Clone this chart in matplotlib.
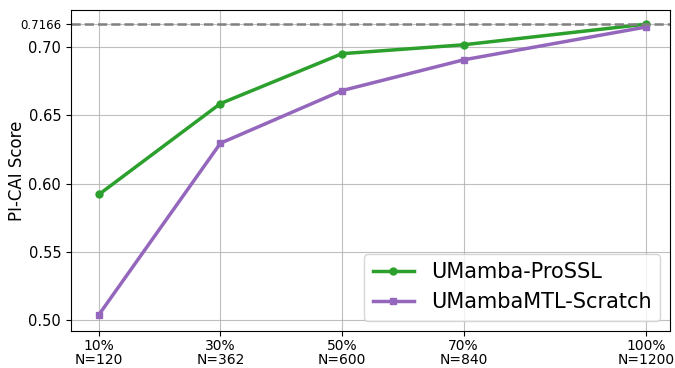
import numpy as np
import matplotlib.pyplot as plt

# data
pct = [10, 30, 50, 70, 100]
n_labels = ['10%\nN=120', '30%\nN=362', '50%\nN=600', '70%\nN=840', '100%\nN=1200']
prossl = [0.592, 0.6585, 0.695, 0.7015, 0.7166]
scratch = [0.504, 0.6295, 0.668, 0.6905, 0.7145]
ref_line = 0.7166

fig, ax = plt.subplots(figsize=(6.75, 3.68), dpi=100)

ax.plot(pct, prossl, color='#2ca02c', marker='o', markersize=5, linewidth=2.5, label='UMamba-ProSSL')
ax.plot(pct, scratch, color='#9467bd', marker='s', markersize=5, linewidth=2.5, label='UMambaMTL-Scratch')
ax.axhline(ref_line, color='gray', linestyle='--', linewidth=1.8)

ax.set_xticks(pct)
ax.set_xticklabels(n_labels, fontsize=10, linespacing=1.0)
ax.tick_params(axis='x', pad=2)
yt = [0.50, 0.55, 0.60, 0.65, 0.70]
ax.set_yticks(yt + [ref_line])
ax.set_yticklabels([f'{v:.2f}' for v in yt] + [f'{ref_line:.4f}'])
for lbl in ax.get_yticklabels():
    lbl.set_fontsize(10.5)
ax.get_yticklabels()[-1].set_fontsize(8.5)
ax.set_ylim(0.492, 0.727)
ax.set_xlim(5.4, 104)
ax.set_ylabel('PI-CAI Score', fontsize=12)
ax.yaxis.set_label_coords(-0.075, 0.5)
ax.grid(True, color='#b0b0b0', alpha=0.8)
ax.legend(loc='lower right', fontsize=15)

plt.subplots_adjust(left=0.105, right=0.993, top=0.973, bottom=0.1)
plt.savefig('out.png')
